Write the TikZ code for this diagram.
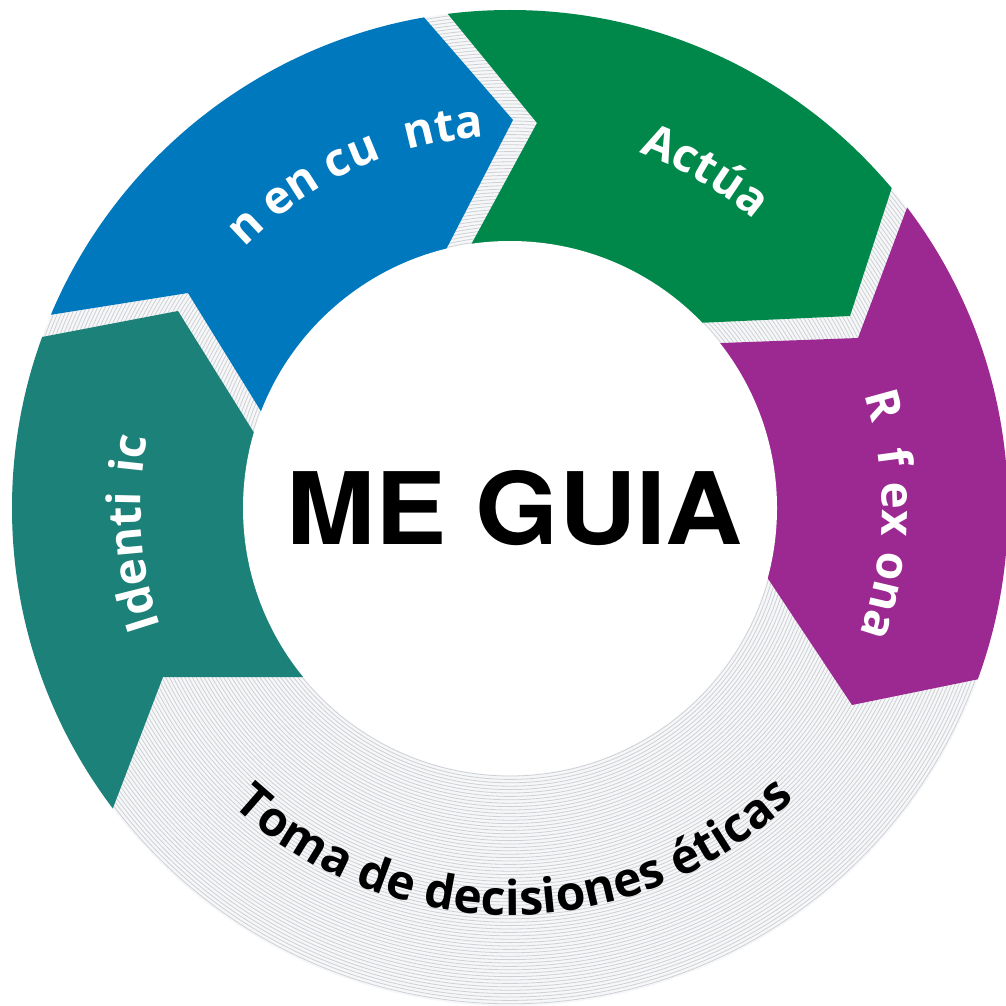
\documentclass[tikz,border=0pt]{standalone}
\usepackage{fontspec}
\usetikzlibrary{decorations.text}
\newfontfamily\segfont{Open Sans}
\newfontfamily\megfont{TeX Gyre Heros}
\definecolor{cteal}{RGB}{27,129,121}
\definecolor{cblue}{RGB}{0,120,190}
\definecolor{cgreen}{RGB}{0,136,74}
\definecolor{cpurple}{RGB}{156,40,145}
\definecolor{ringbg}{RGB}{246,247,249}
\definecolor{ringline}{RGB}{206,208,211}
\tikzset{
  segtext/.style={decorate, decoration={text along path, text color=white, text={#1}}},
  basetext/.style={decorate, decoration={text along path, text color=black, text={#1}}}
}
\begin{document}
\begin{tikzpicture}[x=1pt,y=-1pt]
\useasboundingbox (0,0) rectangle (1006,1006);
\fill[white] (0,0) rectangle (1006,1006);
\coordinate (c) at (510,508);
\begin{scope}
  \clip (c) circle[radius=498];
  \fill[ringbg] (c) circle[radius=498];
  \foreach \r in {268,271.4,...,500} \draw[ringline, line width=0.8pt] (c) circle[radius=\r];
  % teal: Identifica
  \fill[cteal] (-26,350) -- (178,311) -- (296,500) -- (400,560) -- (400,677) -- (163,677) -- (87,876) -- (-60,876) -- (-60,350) -- cycle;
  % blue: Ten en cuenta
  \fill[cblue] (-20,326) -- (188,293) -- (296,468) -- (407,325) -- (513,120) -- (396,-15) -- (-60,-15) -- (-60,326) -- cycle;
  % green: Actua
  \fill[cgreen] (411,-31) -- (537,123) -- (433,315) -- (610,327) -- (850,316) -- (910,132) -- (1050,0) -- (1050,-60) -- (411,-60) -- cycle;
  % purple: Reflexiona
  \fill[cpurple] (928,152) -- (858,338) -- (640,346) -- (727,517) -- (852,705) -- (1038,667) -- (1080,667) -- (1080,152) -- cycle;
\end{scope}
\fill[white] (c) circle[radius=267];

\node[font=\megfont\bfseries\fontsize{100}{100}\selectfont, anchor=base, xscale=1.068] (meguia) at (514.5,544) {ME GUIA};

\path[segtext={|\segfont\bfseries\fontsize{46}{46}\selectfont|Identi{\phantom{f}}ic}]
  (c) ++(161.3:369) arc[start angle=161.3, end angle=215, radius=369];
\path[segtext={|\segfont\bfseries\fontsize{46}{46}\selectfont|n en cu{\phantom{e}}nta}]
  (c) ++(224.4:372) arc[start angle=224.4, end angle=285, radius=372];
\path[segtext={|\segfont\bfseries\fontsize{46}{46}\selectfont|Actúa}]
  (c) ++(290:378) arc[start angle=290, end angle=335, radius=378];
\path[segtext={|\segfont\bfseries\fontsize{46}{46}\selectfont|R{\phantom{e}}f{\phantom{l}}ex{\phantom{i}}ona}]
  (c) ++(342.3:372) arc[start angle=342.3, end angle=400, radius=372];
\path[basetext={|\segfont\bfseries\fontsize{48}{48}\selectfont|Toma de decisiones éticas}]
  (c) ++(133:407) arc[start angle=133, end angle=30, radius=407];
\end{tikzpicture}
\end{document}
